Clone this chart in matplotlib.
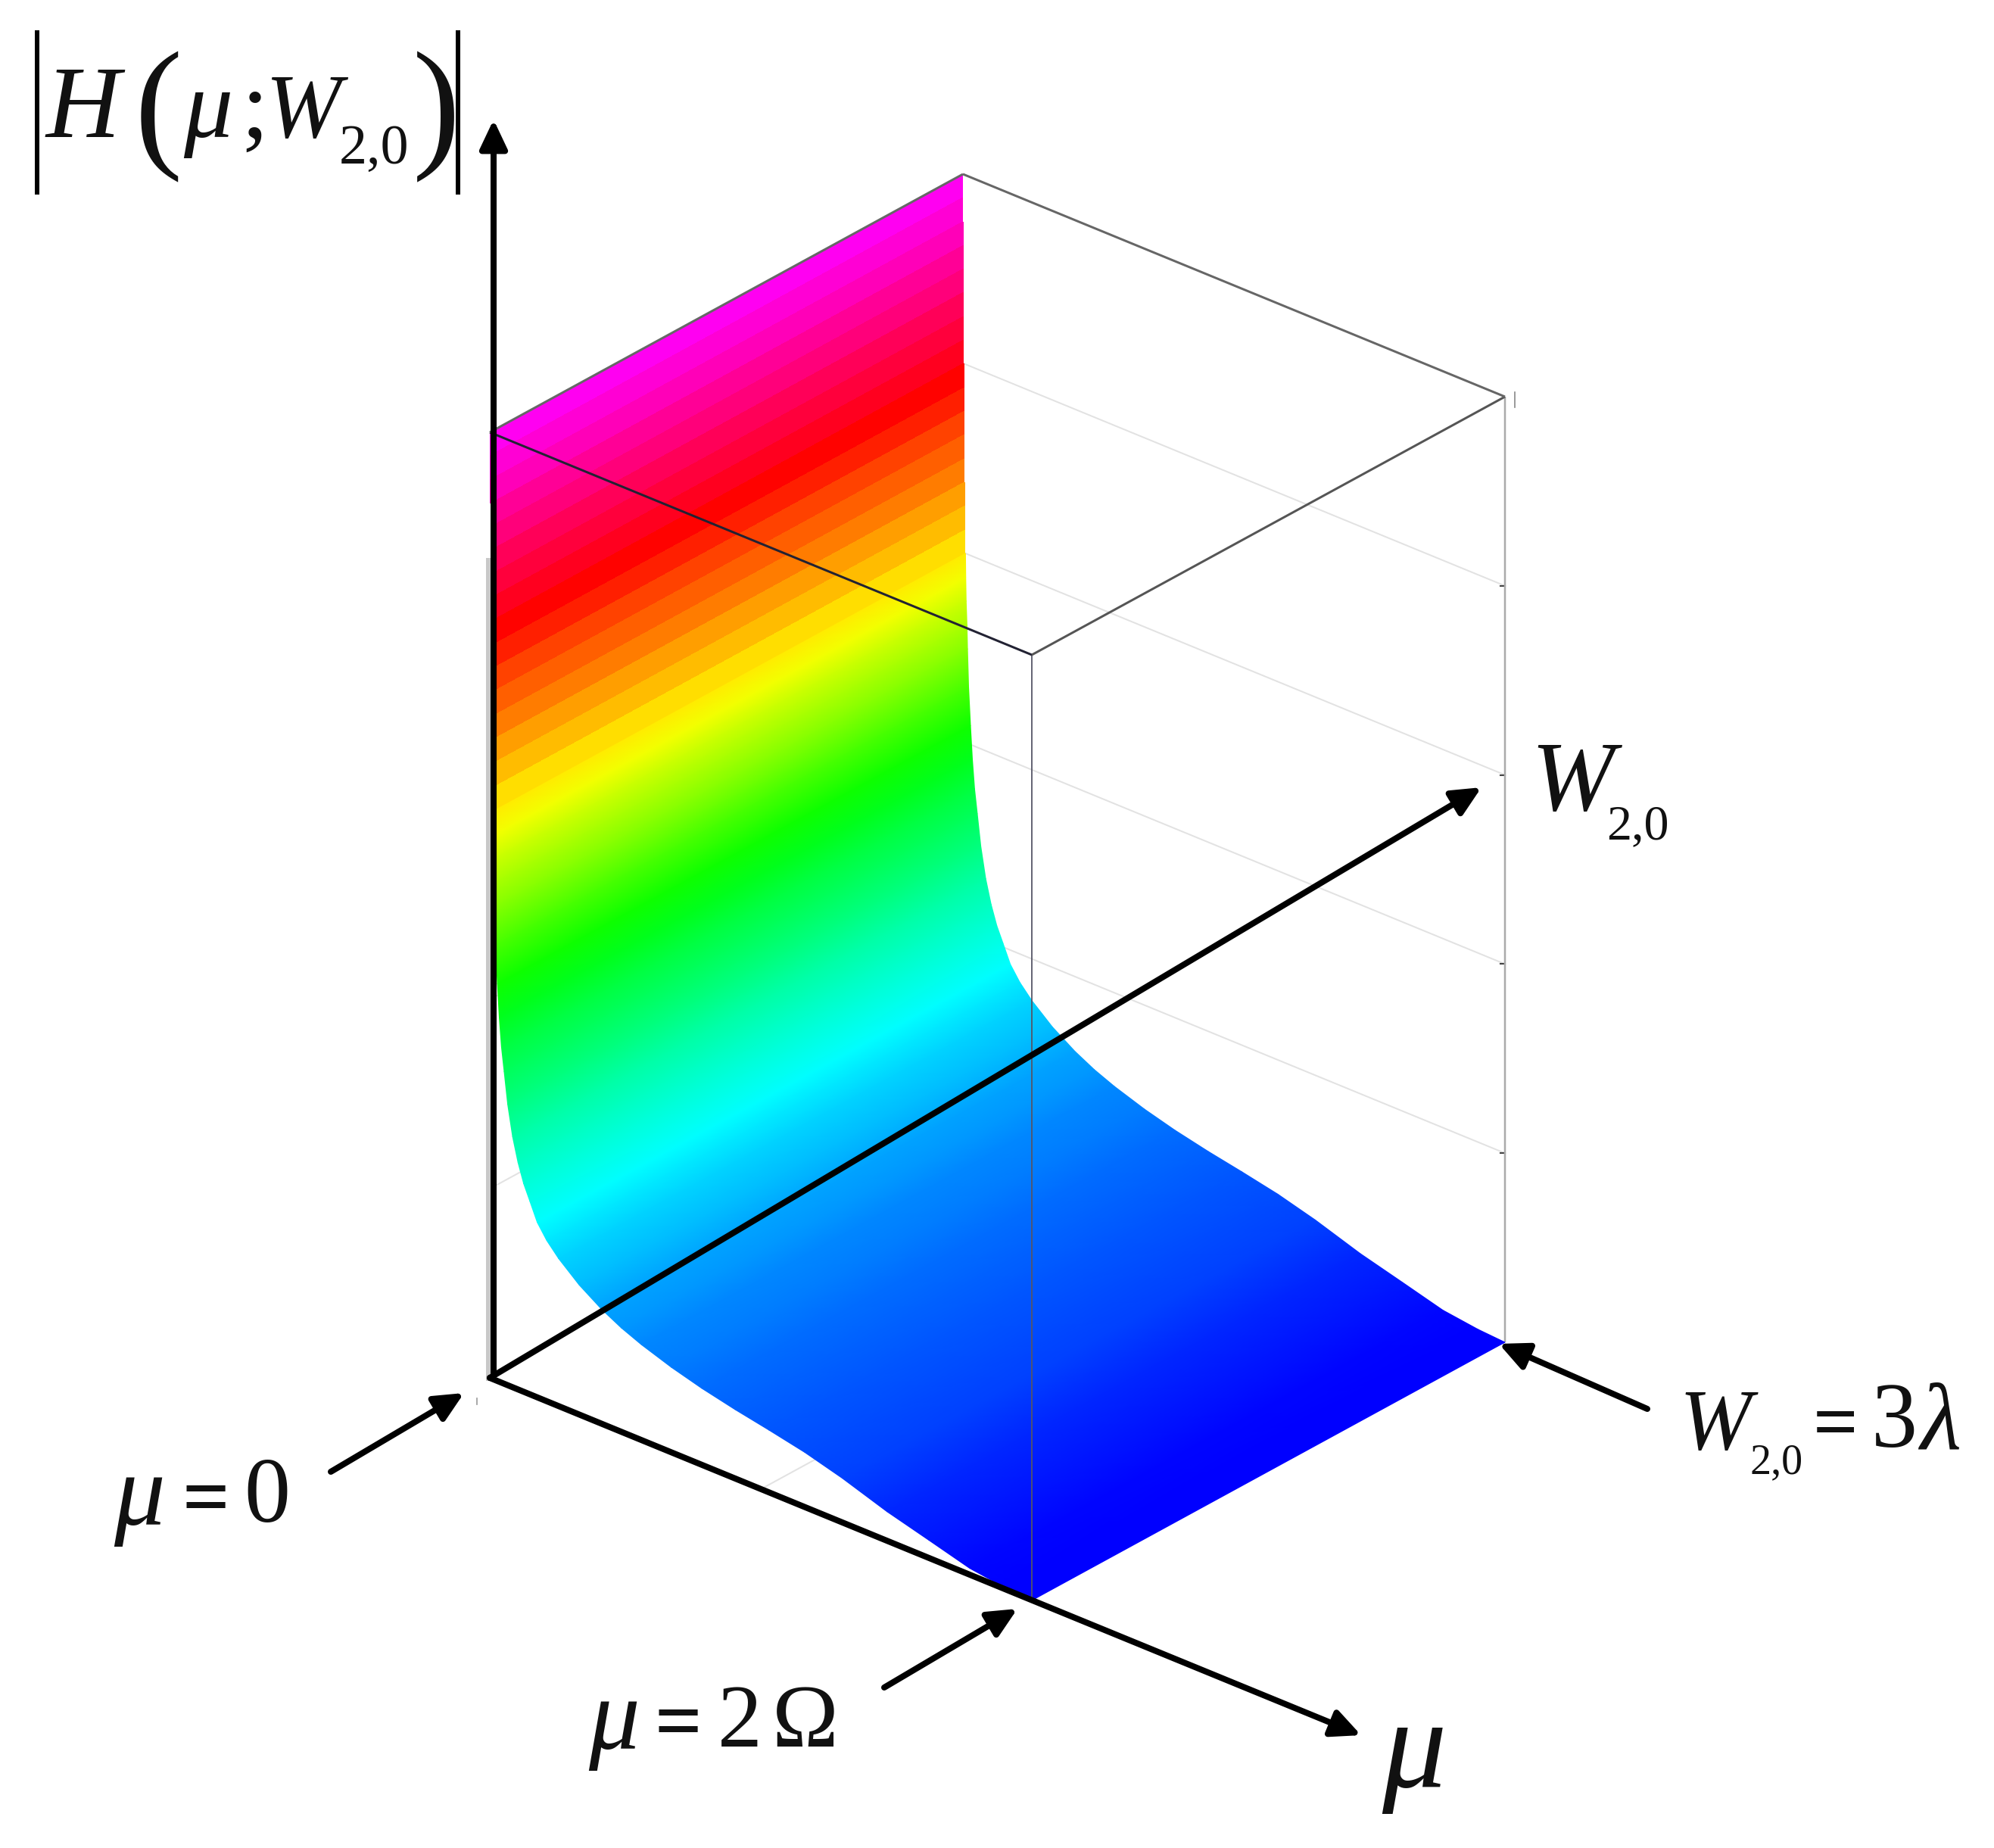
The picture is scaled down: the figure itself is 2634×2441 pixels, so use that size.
import numpy as np
import matplotlib
matplotlib.use("Agg")
import matplotlib.pyplot as plt
from matplotlib.colors import LinearSegmentedColormap

# surface profile, steep part (drawn in flat bands)
mu_top = [0, .0005, .001, .0015, .002, .0025, .003, .0035, .004, .0045, .005,
          .0055, .006, .0068, .0076, .0085, .0095]
H_top = [1.0, .975, .95, .925, .9, .875, .85, .825, .8, .775, .75,
         .725, .7, .675, .65, .625, .6]

# lower part (smooth shading)
mu_low = [.0095, .0105, .012, .015, .017, .021, .028, .035, .043, .053, .066, .084,
          .104, .125, .148, .175, .21, .254, .33, .413, .485, .559, .67, .782, .905,
          1.03, 1.162, 1.3, 1.466, 1.62, 1.771, 1.9, 2.0]
H_low = [.6, .575, .55, .525, .5, .46, .42, .385, .355, .33, .297, .265,
         .24, .22, .204, .185, .17, .156, .137, .121, .11, .101, .09, .081, .073,
         .066, .058, .047, .031, .019, .007, .002, 0]

H_ticks = [.2, .4, .6, .8]
MU_MAX = 2.0
W_MAX = 3.0

cmap = LinearSegmentedColormap.from_list("surf", [
    (0.0, "#0000ff"), (0.185, "#00ffff"), (0.41, "#00ff00"),
    (0.585, "#ffff00"), (0.79, "#ff0000"), (1.0, "#ff00ff")])


def project(mu, w, h):
    mu = np.asarray(mu, dtype=float)
    w = np.asarray(w, dtype=float)
    h = np.asarray(h, dtype=float)
    x = 647 + mu / MU_MAX * 716 + w / W_MAX * 625
    y = 1820 + mu / MU_MAX * 294 - w / W_MAX * 341 - h * 1249
    return x, y


def sheet(ax, mus, hs, shading):
    mus = np.array(mus)
    hs = np.array(hs)
    x0, y0 = project(mus, 0, hs)
    x1, y1 = project(mus, W_MAX, hs)
    X = np.vstack([x0, x1])
    Y = np.vstack([y0, y1])
    if shading == "gouraud":
        C = np.vstack([hs, hs])
    else:
        mid = (hs[:-1] + hs[1:]) / 2
        C = mid.reshape(1, -1)
    ax.pcolormesh(X, Y, C, cmap=cmap, vmin=0, vmax=1, shading=shading, zorder=3)


def seg(ax, a, b, color, lw, z=2):
    xa, ya = project(*a)
    xb, yb = project(*b)
    ax.plot([xa, xb], [ya, yb], color=color, lw=lw * .72, zorder=z, solid_capstyle="butt")


def arrow(ax, tail, tip, lw=8):
    ax.annotate("", xy=tip, xytext=tail, zorder=6,
                arrowprops=dict(arrowstyle="-|>,head_length=0.55,head_width=0.26",
                                mutation_scale=42, lw=lw * .72, color="black",
                                shrinkA=0, shrinkB=0))


def label(ax, x, y, s, px, italic=False, bold=False):
    ax.text(x, y, s, fontsize=px * .72, family="Liberation Serif",
            style="italic" if italic else "normal",
            weight="bold" if bold else "normal", ha="left", va="baseline",
            color="#111111", zorder=7)


fig = plt.figure(figsize=(26.34, 24.41), dpi=100)
ax = fig.add_axes([0, 0, 1, 1])
ax.set_xlim(0, 2634)
ax.set_ylim(2441, 0)
ax.axis("off")

# back wall and floor grid, mostly hidden by the surface
for h in H_ticks:
    seg(ax, (0, W_MAX, h), (MU_MAX, W_MAX, h), "#e2e2e2", 2)
    seg(ax, (0, 0, h), (0, W_MAX, h), "#e2e2e2", 2)
    xt, yt = project(MU_MAX, W_MAX, h)
    ax.plot([xt - 6, xt], [yt, yt], color="#444444", lw=1.5, zorder=2)
seg(ax, (1, 0, 0), (1, W_MAX, 0), "#e2e2e2", 2)

sheet(ax, mu_top, H_top, "flat")
sheet(ax, mu_low, H_low, "gouraud")

# box
ax.plot([645, 645], [740, 1820], color="#c8c8c8", lw=7 * .72, zorder=2)
seg(ax, (MU_MAX, W_MAX, 0), (MU_MAX, W_MAX, 1), "#aaaaaa", 2.5, 2)
seg(ax, (MU_MAX, 0, 0), (MU_MAX, 0, 1), "#555566", 1.8, 4)
seg(ax, (0, 0, 1), (MU_MAX, 0, 1), "#222233", 3, 4)
seg(ax, (MU_MAX, 0, 1), (MU_MAX, W_MAX, 1), "#555555", 3, 4)
seg(ax, (MU_MAX, W_MAX, 1), (0, W_MAX, 1), "#666666", 3, 4)
seg(ax, (0, W_MAX, 1), (0, 0, 1), "#666666", 3, 4)
ax.plot([630, 630], [1847, 1855], color="#999999", lw=1.2)
ax.plot([2001, 2001], [518, 538], color="#888888", lw=1.2)

# axes
arrow(ax, (652, 1815), (652, 158))
arrow(ax, (647, 1820), (1798, 2292))
arrow(ax, (647, 1820), (1957, 1040))
arrow(ax, (437, 1944), (613, 1840))
arrow(ax, (1168, 2229), (1344, 2125))
arrow(ax, (2176, 1861), (1980, 1775))

# |H(mu;W2,0)|
for xb in [49, 605]:
    ax.plot([xb, xb], [43, 254], color="black", lw=6 * .72, zorder=7)
label(ax, 60, 181, "H", 136, True)
label(ax, 178, 200, "(", 190)
label(ax, 242, 181, "μ", 130, True)
label(ax, 318, 181, ";", 130)
label(ax, 350, 181, "W", 120, True)
label(ax, 448, 216, "2,0", 74)
label(ax, 545, 200, ")", 190)

# mu = 0
label(ax, 150, 2014, "μ", 135, True)
label(ax, 240, 2014, "=", 110, False, True)
label(ax, 322, 2010, "0", 122)

# mu = 2 Omega
label(ax, 777, 2310, "μ", 135, True)
label(ax, 864, 2310, "=", 110, False, True)
label(ax, 948, 2307, "2", 118)
label(ax, 1020, 2307, "Ω", 118)

# W2,0 label
label(ax, 2022, 1070, "W", 132, True)
label(ax, 2122, 1108, "2,0", 66)

label(ax, 1825, 2360, "μ", 170, True)

# W2,0 = 3 lambda
label(ax, 2218, 1914, "W", 114, True)
label(ax, 2312, 1946, "2,0", 56)
label(ax, 2395, 1913, "=", 105, False, True)
label(ax, 2472, 1911, "3", 122)
label(ax, 2536, 1914, "λ", 125, True)

fig.savefig("out.png", dpi=100, facecolor="white")
